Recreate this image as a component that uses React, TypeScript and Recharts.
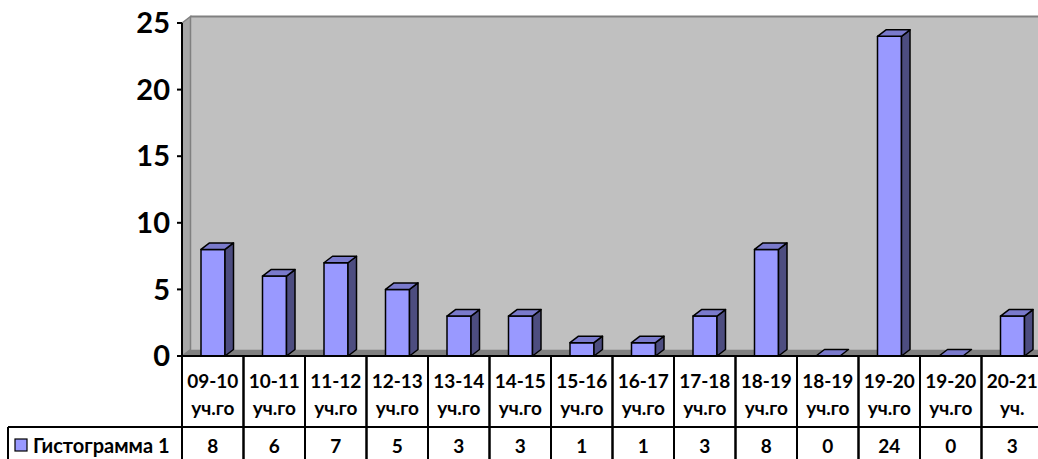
import { Bar, BarChart, Customized, XAxis, YAxis } from "recharts";

const CATEGORIES = [
  "09-10 уч.го",
  "10-11 уч.го",
  "11-12 уч.го",
  "12-13 уч.го",
  "13-14 уч.го",
  "14-15 уч.го",
  "15-16 уч.го",
  "16-17 уч.го",
  "17-18 уч.го",
  "18-19 уч.го",
  "18-19 уч.го",
  "19-20 уч.го",
  "19-20 уч.го",
  "20-21 уч.",
];
const VALUES = [8, 6, 7, 5, 3, 3, 1, 1, 3, 8, 0, 24, 0, 3];
const Y_TICKS = [0, 5, 10, 15, 20, 25];
const SERIES_NAME = "Гистограмма 1";

const data = CATEGORIES.map((name, i) => ({ name, value: VALUES[i] }));

const FONT = "Lato, 'Noto Sans', sans-serif";
const W = 1043;
const H = 459;
const TOP = 23;
const LEFT = 182;
const AXIS_H = 103;
const BOTTOM = H - AXIS_H;
const DX = 8.5;
const DY = 6.5;

function Bar3D(props: any) {
  const { x, y, width, height } = props;
  if (x == null || y == null) return null;
  const bottom = y + height;
  const right = x + width;
  return (
    <g stroke="#000" strokeWidth={1.5} strokeLinejoin="round">
      {height > 0 && (
        <>
          <rect x={x} y={y} width={width} height={height} fill="#9999FF" />
          <polygon
            points={`${right},${y} ${right + DX},${y - DY} ${right + DX},${bottom - DY} ${right},${bottom}`}
            fill="#4D4D80"
          />
        </>
      )}
      <polygon
        points={`${x},${y} ${x + DX},${y - DY} ${right + DX},${y - DY} ${right},${y}`}
        fill="#7A7ACC"
      />
    </g>
  );
}

function Walls() {
  return (
    <g>
      <rect x={LEFT + DX} y={TOP - DY} width={W - LEFT} height={BOTTOM - TOP} fill="#C0C0C0" />
      <line x1={LEFT + DX} y1={TOP - DY} x2={W} y2={TOP - DY} stroke="#808080" strokeWidth={2} />
      <polygon
        points={`${LEFT},${TOP} ${LEFT + DX},${TOP - DY} ${LEFT + DX},${BOTTOM - DY} ${LEFT},${BOTTOM}`}
        fill="#A6A6A6"
        stroke="#808080"
        strokeWidth={1.5}
      />
      <polygon
        points={`${LEFT},${BOTTOM} ${LEFT + DX},${BOTTOM - DY} ${W},${BOTTOM - DY} ${W},${BOTTOM}`}
        fill="#808080"
      />
    </g>
  );
}

function TableLegend() {
  const rowY = BOTTOM + 71;
  return (
    <g>
      <line x1={8} y1={rowY} x2={W} y2={rowY} stroke="#000" strokeWidth={2} />
      <line x1={8} y1={rowY} x2={8} y2={H} stroke="#000" strokeWidth={2} />
      <rect x={15} y={rowY + 12} width={12} height={12} fill="#9999FF" stroke="#000" strokeWidth={1.2} />
      <text
        x={33}
        y={rowY + 18}
        dominantBaseline="central"
        fontFamily={FONT}
        fontWeight="bold"
        fontSize={20}
        fill="#000"
      >
        {SERIES_NAME}
      </text>
    </g>
  );
}

function TableTick(props: any) {
  const { x, y, payload, index } = props;
  const half = payload?.offset ?? 30.75;
  const [period, suffix] = String(payload.value).split(" ");
  const textProps = {
    x,
    textAnchor: "middle" as const,
    dominantBaseline: "central" as const,
    fontFamily: FONT,
    fontWeight: "bold",
    fontSize: 19,
    fill: "#000",
  };
  return (
    <g>
      <line x1={x - half} y1={y} x2={x - half} y2={H} stroke="#000" strokeWidth={2} />
      <line x1={x + half} y1={y} x2={x + half} y2={H} stroke="#000" strokeWidth={2} />
      <text {...textProps} y={y + 24}>
        {period}
      </text>
      <text {...textProps} y={y + 51}>
        {suffix}
      </text>
      <text {...textProps} y={y + 89}>
        {VALUES[index]}
      </text>
    </g>
  );
}

export default function App() {
  return (
    <div
      style={{
        position: "absolute",
        left: 0,
        top: 0,
        width: 1038,
        height: H,
        overflow: "hidden",
        background: "#fff",
      }}
    >
      <BarChart
        width={W}
        height={H}
        data={data}
        margin={{ top: TOP, right: 0, bottom: 0, left: LEFT - 60 }}
        barSize={24}
      >
        <Customized component={Walls} />
        <XAxis
          dataKey="name"
          height={AXIS_H}
          interval={0}
          tickSize={0}
          tickMargin={0}
          tickLine={false}
          axisLine={{ stroke: "#000", strokeWidth: 2 }}
          tick={<TableTick />}
        />
        <YAxis
          width={60}
          domain={[0, 25]}
          ticks={Y_TICKS}
          interval={0}
          tickSize={5}
          tickMargin={7}
          axisLine={{ stroke: "#000", strokeWidth: 2 }}
          tickLine={{ stroke: "#000", strokeWidth: 2 }}
          tick={{ fill: "#000", fontSize: 29, fontWeight: "bold", fontFamily: FONT }}
        />
        <Customized component={TableLegend} />
        <Bar dataKey="value" isAnimationActive={false} shape={<Bar3D />} />
      </BarChart>
    </div>
  );
}
